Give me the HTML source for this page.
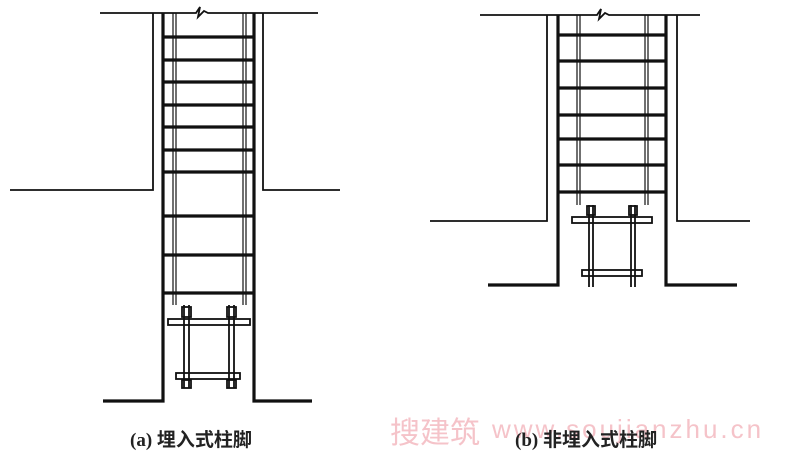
<!DOCTYPE html>
<html><head><style>
body{margin:0;background:#fff;width:800px;height:457px;overflow:hidden;position:relative}
svg{position:absolute;left:0;top:0}
.t{position:absolute;font-family:"Liberation Serif","Noto Sans CJK SC",serif;font-size:19px;color:#222;white-space:nowrap;font-weight:bold}
.w{position:absolute;font-family:"Liberation Sans","Noto Sans CJK SC",sans-serif;color:#f5c3c9;white-space:nowrap}
</style></head><body>
<div class="w" style="left:390px;top:408px;font-size:30px">搜建筑</div>
<div class="w" style="left:492px;top:414px;font-size:26px;letter-spacing:3px">www.soujianzhu.cn</div>
<svg width="800" height="457" viewBox="0 0 800 457" stroke="#111" fill="none">
<g>
<path d="M100 13H196l4-6-2 10 6-6 4 2H318" stroke-width="1.8"/>
<path d="M10 190H153V13M263 13V190H340" stroke-width="1.8"/>
<path d="M103 401H163V13M254 13V401H312" stroke-width="3.2"/>
<path d="M173 13V305M176 13V305M243 13V305M246 13V305" stroke-width="1.2"/>
<g stroke-width="3.2"><path d="M163 37H254M163 60H254M163 82H254M163 105H254M163 127H254M163 150H254M163 172H254M163 216H254M163 255H254M163 293H254"/></g>
<rect x="168" y="319" width="82" height="6" stroke-width="1.8" fill="#fff"/>
<rect x="176" y="373" width="64" height="6" stroke-width="1.8" fill="#fff"/>
<path d="M184 305V388M189 305V388M229 305V388M234 305V388" stroke-width="1.8"/>
<rect x="182" y="307" width="9" height="10" stroke-width="1.8"/>
<rect x="227" y="307" width="9" height="10" stroke-width="1.8"/>
<rect x="182" y="380" width="9" height="8" stroke-width="1.8"/>
<rect x="227" y="380" width="9" height="8" stroke-width="1.8"/>
</g>
<g>
<path d="M480 15H597l4-6-2 10 6-6 4 2H700" stroke-width="1.8"/>
<path d="M430 221H547V15M677 15V221H750" stroke-width="1.8"/>
<path d="M488 285H558V15M666 15V285H737" stroke-width="3.2"/>
<path d="M577 15V205M580 15V205M645 15V205M648 15V205" stroke-width="1.2"/>
<path d="M558 35H666M558 61H666M558 88H666M558 115H666M558 139H666M558 165H666M558 192H666" stroke-width="3.2"/>
<rect x="572" y="217" width="80" height="6" stroke-width="1.8" fill="#fff"/>
<rect x="582" y="270" width="60" height="6" stroke-width="1.8" fill="#fff"/>
<path d="M589 205V287M593 205V287M631 205V287M635 205V287" stroke-width="1.8"/>
<rect x="587" y="206" width="8" height="9" stroke-width="1.8"/>
<rect x="629" y="206" width="8" height="9" stroke-width="1.8"/>
</g>
</svg>
<div class="t" style="left:130px;top:425px">(a) 埋入式柱脚</div>
<div class="t" style="left:515px;top:425px">(b) 非埋入式柱脚</div>
</body></html>
